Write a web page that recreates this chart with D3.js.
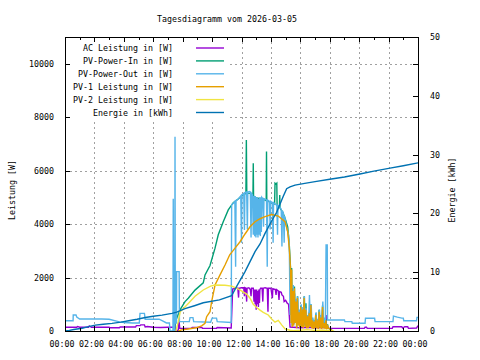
<!DOCTYPE html>
<html><head><meta charset="utf-8">
<script src="https://cdn.jsdelivr.net/npm/d3@7/dist/d3.min.js"></script>
<style>
body{margin:0;background:#fff}
svg text{font-family:"DejaVu Sans Mono",monospace;font-size:8.3px;fill:#000}
</style>
</head><body>
<svg id="chart" width="480" height="360"></svg>
<script>
const title = "Tagesdiagramm vom 2026-03-05";
const yLabel = "Leistung [W]";
const y2Label = "Energie [kWh]";
const xTickHours = [0,2,4,6,8,10,12,14,16,18,20,22,24];
const xTickLabels = ["00:00","02:00","04:00","06:00","08:00","10:00","12:00","14:00","16:00","18:00","20:00","22:00","00:00"];
const xMinorHours = [1,3,5,7,9,11,13,15,17,19,21,23];
const yTicks = [0,2000,4000,6000,8000,10000];
const y2Ticks = [0,10,20,30,40,50];
const seriesNames = ["AC Leistung in [W]","PV-Power-In in [W]","PV-Power-Out in [W]","PV-1 Leistung in [W]","PV-2 Leistung in [W]","Energie in [kWh]"];
const seriesColors = ["#9400d3","#009e73","#56b4e9","#e69f00","#f0e442","#0072b2"];

// [hour, W]
const acPower = [[0,140],[0.8,140],[0.85,170],[1.0,140],[1.6,140],[1.65,190],[1.8,140],[3.0,140],[3.05,120],[3.7,120],[3.75,150],[4.8,150],[4.85,200],[5.1,200],[5.15,230],[5.4,230],[5.45,150],[5.6,170],[6.0,140],[6.5,130],[7.0,140],[7.4,140],[7.45,1600],[7.5,140],[7.55,20],[7.7,20],[7.75,410],[7.8,100],[8.6,100],[8.65,130],[9.3,130],[9.35,100],[10.3,100],[10.35,130],[11.3,110],[11.4,1570],[11.6,1600],[11.75,1600],[11.8,1250],[11.83,1600],[12.0,1620],[12.15,1630],[12.2,1300],[12.23,1620],[12.3,1600],[12.35,1100],[12.38,1600],[12.5,1620],[12.6,1550],[12.65,1300],[12.68,1600],[12.8,1600],[12.85,1100],[12.88,1550],[12.93,1000],[12.96,1550],[13.0,800],[13.03,1550],[13.07,1000],[13.1,1500],[13.15,900],[13.18,1550],[13.22,1050],[13.25,1550],[13.3,1600],[13.4,1600],[13.45,1100],[13.48,1600],[13.6,1620],[13.75,1600],[13.8,720],[13.83,1600],[14.0,1600],[14.1,1230],[14.13,1580],[14.3,1550],[14.35,1350],[14.38,1550],[14.5,1500],[14.55,1160],[14.58,1480],[14.7,1450],[14.75,1350],[14.85,1300],[14.9,1100],[15.0,1150],[15.1,1050],[15.2,1000],[15.3,150],[16.0,120],[16.5,140],[17.0,120],[17.7,130],[17.75,600],[17.78,130],[18.0,100],[20.35,100],[20.4,140],[20.5,140],[20.55,100],[22.25,100],[22.3,160],[22.9,160],[22.95,110],[23.1,160],[23.3,160],[23.35,100],[23.9,110],[24,200]];

const pvIn = [[7.45,0],[7.5,350],[7.82,790],[8.16,1100],[8.38,1225],[8.84,1530],[9.4,1800],[9.52,2100],[9.86,2450],[10.2,3100],[10.42,3600],[10.76,4090],[11.1,4530],[11.44,4800],[11.8,4950],[12.0,5050],[12.3,5150],[12.33,7150],[12.36,5150],[12.6,5150],[12.78,5100],[12.8,6280],[12.82,5050],[13.0,4980],[13.3,4950],[13.6,4900],[13.68,4880],[13.7,6715],[13.72,4880],[14.0,4800],[14.25,4750],[14.28,5530],[14.35,5500],[14.4,5530],[14.42,4700],[14.58,4650],[14.6,5090],[14.62,4600],[14.8,4450],[15.0,4150],[15.14,3900],[15.25,3200],[15.33,2400],[15.38,600],[15.41,2360],[15.45,200],[15.5,1600],[15.55,250],[15.6,1660],[15.64,300],[15.7,1150],[15.75,150],[15.8,1300],[15.86,250],[15.92,750],[15.97,150],[16.03,950],[16.09,200],[16.15,850],[16.2,150],[16.26,1300],[16.32,200],[16.38,1040],[16.43,150],[16.49,600],[16.54,150],[16.6,700],[16.66,200],[16.72,1000],[16.77,150],[16.83,450],[16.88,120],[16.94,400],[16.99,150],[17.05,650],[17.11,150],[17.17,450],[17.22,120],[17.28,790],[17.34,150],[17.4,550],[17.45,120],[17.51,950],[17.56,150],[17.62,350],[17.68,120],[17.74,450],[17.79,100],[17.85,250],[17.9,100],[18.0,80],[18.1,40],[18.2,0]];

const pvOut = [[0,385],[0.55,385],[0.56,600],[0.75,600],[0.8,520],[1.0,450],[2.5,450],[3.0,440],[3.7,340],[4.0,320],[4.6,300],[5.05,300],[5.1,660],[5.4,660],[5.45,440],[6.4,440],[6.6,385],[6.9,300],[7.1,300],[7.14,0],[7.34,0],[7.36,4950],[7.38,0],[7.46,0],[7.48,7270],[7.5,300],[7.58,300],[7.59,2220],[7.76,2220],[7.78,350],[8.45,350],[8.5,500],[8.7,500],[8.75,350],[9.9,330],[10.0,480],[10.3,480],[10.35,350],[11.3,320],[11.33,4720],[11.45,4780],[11.55,4850],[11.6,2400],[11.63,4880],[11.8,4950],[11.95,5050],[12.0,3300],[12.03,5100],[12.15,5150],[12.2,3780],[12.23,5180],[12.35,5200],[12.4,3800],[12.43,5200],[12.55,5220],[12.6,5200],[12.65,3500],[12.68,5150],[12.75,5100],[12.8,3600],[12.83,5050],[12.9,3550],[12.93,5050],[12.98,3500],[13.0,5000],[13.05,3600],[13.08,5000],[13.12,3500],[13.15,4950],[13.2,3600],[13.23,5000],[13.28,3550],[13.3,5000],[13.35,3700],[13.38,5000],[13.45,4950],[13.5,3900],[13.53,4950],[13.7,4900],[13.75,2400],[13.78,4900],[13.9,4850],[13.95,3800],[13.98,4850],[14.1,4800],[14.15,3300],[14.18,4800],[14.3,4750],[14.4,4700],[14.45,3600],[14.48,4700],[14.6,4650],[14.7,4550],[14.75,3160],[14.78,4500],[14.85,4400],[14.9,3300],[14.93,4300],[15.0,4100],[15.1,3800],[15.2,3600],[15.25,3300],[15.3,600],[15.35,2200],[15.38,300],[15.43,1500],[15.47,300],[15.52,1720],[15.57,250],[15.62,1400],[15.66,300],[15.72,1200],[15.77,250],[15.83,1300],[15.88,250],[15.95,800],[16.0,250],[16.06,1000],[16.11,300],[16.17,900],[16.22,250],[16.28,1300],[16.34,300],[16.4,850],[16.45,250],[16.51,600],[16.56,250],[16.62,1350],[16.68,300],[16.74,1000],[16.79,250],[16.85,500],[16.9,250],[16.96,400],[17.01,250],[17.07,700],[17.12,250],[17.18,450],[17.24,250],[17.3,800],[17.35,300],[17.41,600],[17.47,250],[17.53,1100],[17.58,300],[17.64,500],[17.7,300],[17.75,3220],[17.83,3220],[17.85,410],[19.0,410],[19.03,350],[19.5,350],[19.53,290],[20.4,290],[20.43,475],[21.05,475],[21.08,350],[22.3,350],[22.33,560],[22.6,520],[22.9,480],[23.0,480],[23.03,385],[23.9,385],[23.93,510],[24,510]];

const pv1 = [[7.7,0],[7.93,40],[8.38,75],[9.0,130],[9.29,190],[9.52,290],[9.63,535],[9.86,720],[9.97,1100],[10.2,1720],[10.54,2100],[10.88,2470],[11.2,2850],[11.56,3100],[11.9,3340],[12.24,3630],[12.58,3900],[12.92,4090],[13.26,4200],[13.6,4280],[14.05,4360],[14.5,4300],[14.96,4090],[15.14,3720],[15.25,3100],[15.33,2350],[15.37,300],[15.41,2300],[15.45,150],[15.5,1500],[15.55,200],[15.6,1600],[15.64,300],[15.7,1100],[15.75,100],[15.8,1230],[15.86,200],[15.92,700],[15.97,100],[16.03,910],[16.09,150],[16.15,800],[16.2,100],[16.26,1230],[16.32,150],[16.38,790],[16.43,100],[16.49,550],[16.54,100],[16.6,660],[16.66,150],[16.72,975],[16.77,100],[16.83,400],[16.88,80],[16.94,350],[16.99,100],[17.05,600],[17.11,100],[17.17,400],[17.22,80],[17.28,720],[17.34,100],[17.4,500],[17.45,80],[17.51,900],[17.56,100],[17.62,300],[17.68,80],[17.74,400],[17.79,60],[17.85,225],[17.9,100],[18.0,80],[18.1,40],[18.2,0]];

const pv2 = [[7.55,0],[7.7,350],[7.83,720],[8.4,1040],[8.84,1300],[9.4,1535],[9.9,1680],[10.2,1720],[10.88,1710],[11.33,1680],[11.67,1600],[12.0,1500],[12.35,1380],[12.58,1225],[12.8,1000],[13.03,880],[13.26,780],[13.48,700],[13.82,600],[14.05,450],[14.28,330],[14.5,400],[14.73,230],[14.96,80],[15.3,30],[15.5,10],[16.0,30],[16.5,50],[17.0,20],[17.5,40],[18.0,10],[18.3,0]];

// [hour, kWh]
const energy = [[0,0],[0.3,0.1],[0.6,0.25],[1.16,0.46],[1.6,0.75],[2.06,1.0],[2.6,1.15],[3.2,1.3],[3.8,1.5],[4.33,1.75],[4.9,2.0],[5.46,2.3],[6.0,2.5],[6.6,2.7],[7.27,3.0],[7.6,3.2],[8.16,3.8],[8.8,4.3],[9.4,4.8],[10.5,5.3],[11.33,6.0],[11.67,7.6],[12.24,10.1],[12.58,11.8],[12.92,13.5],[13.26,14.8],[13.6,16.6],[14.0,18.5],[14.39,20.2],[14.84,22.9],[15.07,24.2],[15.3,24.5],[15.64,24.8],[16.3,25.1],[17.0,25.4],[18.0,25.8],[19.0,26.2],[20.05,26.7],[21.0,27.2],[22.1,27.7],[23.0,28.1],[24.0,28.6]];

const powerSeries = [acPower, pvIn, pvOut, pv1, pv2];

const svg = d3.select("#chart");
const L = 65, R = 418, T = 37, B = 331;
const x = d3.scaleLinear().domain([0,24]).range([L,R]);
const y = d3.scaleLinear().domain([0,11000]).range([B,T]);
const y2 = d3.scaleLinear().domain([0,50]).range([B,T]);

svg.append("rect").attr("width",480).attr("height",360).attr("fill","#fff");

// grid
const grid = svg.append("g").attr("stroke","#a0a0a0").attr("stroke-width",1).attr("stroke-dasharray","2,3").attr("shape-rendering","crispEdges");
xTickHours.slice(1,-1).forEach(h=>{
  grid.append("line").attr("x1",Math.round(x(h))+0.5).attr("x2",Math.round(x(h))+0.5).attr("y1",T).attr("y2",B);
});
yTicks.slice(1).forEach(v=>{
  grid.append("line").attr("x1",L).attr("x2",R).attr("y1",Math.round(y(v))+0.5).attr("y2",Math.round(y(v))+0.5);
});

// legend box (opaque)
svg.append("rect").attr("x",L+1).attr("y",T+1).attr("width",162).attr("height",82).attr("fill","#fff");

svg.append("defs").append("clipPath").attr("id","clip").append("rect").attr("x",L).attr("y",T).attr("width",R-L).attr("height",B-T);
const plot = svg.append("g").attr("clip-path","url(#clip)");

const line = d3.line().x(d=>x(d[0])).y(d=>y(d[1]));
const line2 = d3.line().x(d=>x(d[0])).y(d=>y2(d[1]));

powerSeries.forEach((s,i)=>{
  plot.append("path").attr("d",line(s)).attr("fill","none").attr("stroke",seriesColors[i]).attr("stroke-width",1.4).attr("stroke-linejoin","miter");
});
plot.append("path").attr("d",line2(energy)).attr("fill","none").attr("stroke",seriesColors[5]).attr("stroke-width",1.4);

// legend
const lg = svg.append("g");
seriesNames.forEach((n,i)=>{
  const yy = 48 + i*12.9;
  lg.append("text").attr("x",173).attr("y",yy+3).attr("text-anchor","end").text(n);
  lg.append("line").attr("x1",196).attr("x2",224).attr("y1",yy).attr("y2",yy).attr("stroke",seriesColors[i]).attr("stroke-width",1.4);
});

// border and ticks
const ax = svg.append("g").attr("stroke","#000").attr("shape-rendering","crispEdges");
ax.append("rect").attr("x",L+0.5).attr("y",T+0.5).attr("width",R-L).attr("height",B-T).attr("fill","none").attr("stroke-width",1);
xTickHours.forEach(h=>{
  const xx = Math.round(x(h))+0.5;
  ax.append("line").attr("x1",xx).attr("x2",xx).attr("y1",B).attr("y2",B-5);
  ax.append("line").attr("x1",xx).attr("x2",xx).attr("y1",T).attr("y2",T+5);
});
xMinorHours.forEach(h=>{
  const xx = Math.round(x(h))+0.5;
  ax.append("line").attr("x1",xx).attr("x2",xx).attr("y1",B).attr("y2",B-3);
  ax.append("line").attr("x1",xx).attr("x2",xx).attr("y1",T).attr("y2",T+3);
});
yTicks.forEach(v=>{
  const yy = Math.round(y(v))+0.5;
  ax.append("line").attr("x1",L).attr("x2",L+5).attr("y1",yy).attr("y2",yy);
  ax.append("line").attr("x1",R).attr("x2",R-5).attr("y1",yy).attr("y2",yy);
});
y2Ticks.forEach(v=>{
  const yy = Math.round(y2(v))+0.5;
  ax.append("line").attr("x1",R).attr("x2",R-5).attr("y1",yy).attr("y2",yy);
});

// tick labels
const tl = svg.append("g");
xTickHours.forEach((h,i)=>{
  tl.append("text").attr("x",x(h)-3).attr("y",347).attr("text-anchor","middle").text(xTickLabels[i]);
});
yTicks.forEach(v=>{
  tl.append("text").attr("x",54).attr("y",y(v)+3).attr("text-anchor","end").text(v);
});
y2Ticks.forEach(v=>{
  tl.append("text").attr("x",430).attr("y",y2(v)+3).attr("text-anchor","start").text(v);
});

svg.append("text").attr("x",227).attr("y",22).attr("text-anchor","middle").text(title);
svg.append("text").attr("transform","translate(15,190) rotate(-90)").attr("text-anchor","middle").text(yLabel);
svg.append("text").attr("transform","translate(455,190) rotate(-90)").attr("text-anchor","middle").text(y2Label);
</script>
</body></html>
